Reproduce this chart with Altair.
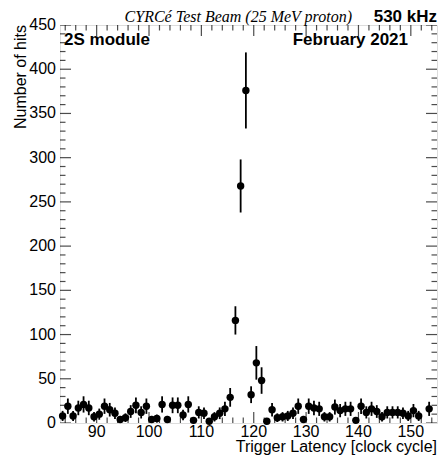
import altair as alt
import pandas as pd

# Trigger latency bins (lower edge of each clock-cycle bin) and measured hits
latency = [83, 84, 85, 86, 87, 88, 89, 90, 91, 92, 93, 94, 95, 96, 97, 98, 99,
           100, 101, 102, 103, 104, 105, 106, 107, 108, 109, 110, 111, 112, 113,
           114, 115, 116, 117, 118, 119, 120, 121, 122, 123, 124, 125, 126, 127,
           128, 129, 130, 131, 132, 133, 134, 135, 136, 137, 138, 139, 140, 141,
           142, 143, 144, 145, 146, 147, 148, 149, 150, 151, 153]
hits = [8, 19, 8, 17, 21, 17, 7, 10, 19, 15, 11, 4, 6, 13, 20, 12, 19,
        4, 5, 21, 4, 20, 20, 9, 21, 3, 12, 11, 2, 7, 11,
        16, 29, 116, 268, 376, 32, 68, 48, 2, 15, 6, 7, 8, 11,
        19, 4, 19, 17, 16, 7, 7, 18, 14, 16, 16, 3, 19, 12,
        16, 13, 7, 12, 12, 12, 11, 8, 14, 8, 16]
errors = [5.7, 8.7, 5.7, 8.2, 9.2, 8.2, 5.3, 6.3, 8.7, 7.7, 6.6, 4.0, 4.9, 7.2, 8.9, 6.9, 8.7,
          4.0, 4.5, 9.2, 4.0, 8.9, 8.9, 6.0, 9.2, 3.5, 6.9, 6.6, 2.8, 5.3, 6.6,
          8.0, 10.6, 16.0, 30.0, 43.0, 9.5, 19.0, 15.0, 2.8, 7.7, 4.9, 5.3, 5.7, 6.6,
          8.7, 4.0, 8.7, 8.2, 8.0, 5.3, 5.3, 8.5, 7.5, 8.0, 8.0, 3.5, 8.7, 6.9,
          8.0, 7.2, 5.3, 6.9, 6.9, 6.9, 6.6, 5.7, 7.5, 5.7, 8.0]

x_major = [90, 100, 110, 120, 130, 140, 150]
x_minor = [84, 86, 88, 92, 94, 96, 98, 102, 104, 106, 108, 112, 114, 116, 118,
           122, 124, 126, 128, 132, 134, 136, 138, 142, 144, 146, 148, 152, 154]
y_major = [0, 50, 100, 150, 200, 250, 300, 350, 400, 450]
y_minor = [10, 20, 30, 40, 60, 70, 80, 90, 110, 120, 130, 140, 160, 170, 180, 190,
           210, 220, 230, 240, 260, 270, 280, 290, 310, 320, 330, 340, 360, 370,
           380, 390, 410, 420, 430, 440]

W, H = 377, 398
FONT = "Liberation Sans"

df = pd.DataFrame({"latency": latency, "hits": hits, "err": errors})
xt = pd.DataFrame({"t": x_major + x_minor,
                   "len": [22] * len(x_major) + [11] * len(x_minor)})
yt = pd.DataFrame({"t": y_major + y_minor,
                   "len": [22] * len(y_major) + [11] * len(y_minor)})
xl = pd.DataFrame({"t": x_major})
yl_df = pd.DataFrame({"t": y_major})

x_scale = alt.Scale(domain=[83, 155], nice=False, zero=False)
y_scale = alt.Scale(domain=[0, 450], nice=False)

base = alt.Chart(df).transform_calculate(
    center="datum.latency + 0.5",
    lo="max(0, datum.hits - datum.err)",
    hi="datum.hits + datum.err",
)

bars = base.mark_rule(color="black", strokeWidth=1.8).encode(
    x=alt.X("center:Q", scale=x_scale, axis=None),
    y=alt.Y("lo:Q", scale=y_scale, axis=None),
    y2="hi:Q",
)

points = base.mark_circle(color="black", opacity=1, size=55).encode(
    x=alt.X("center:Q", scale=x_scale, axis=None),
    y=alt.Y("hits:Q", scale=y_scale, axis=None),
)

def xticks(ypix):
    return alt.Chart(xt).mark_tick(color="black", thickness=1.2, orient="vertical", clip=True).encode(
        x=alt.X("t:Q", scale=x_scale, axis=None),
        y=alt.value(ypix),
        size=alt.Size("len:Q", scale=None, legend=None),
    )

def yticks(xpix):
    return alt.Chart(yt).mark_tick(color="black", thickness=1.2, orient="horizontal", clip=True).encode(
        y=alt.Y("t:Q", scale=y_scale, axis=None),
        x=alt.value(xpix),
        size=alt.Size("len:Q", scale=None, legend=None),
    )

xlabels = alt.Chart(xl).mark_text(
    font=FONT, fontSize=16, align="center", baseline="alphabetic", color="black"
).encode(
    x=alt.X("t:Q", scale=x_scale, axis=None),
    y=alt.value(H + 14),
    text=alt.Text("t:Q"),
)
ylabels = alt.Chart(yl_df).mark_text(
    font=FONT, fontSize=16, align="right", baseline="middle", color="black"
).encode(
    y=alt.Y("t:Q", scale=y_scale, axis=None),
    x=alt.value(-4),
    text=alt.Text("t:Q"),
)

one = pd.DataFrame({"k": [0]})

def label(text, x, y, align, weight="normal", font=FONT, style="normal", angle=0, size=16):
    return alt.Chart(one).mark_text(
        text=text, font=font, fontWeight=weight, fontStyle=style, angle=angle,
        fontSize=size, align=align, baseline="alphabetic", color="black"
    ).encode(x=alt.value(x), y=alt.value(y))

title_it = label("CYRCé Test Beam (25 MeV proton)", 292, -3, "right",
                 font="Liberation Serif", style="italic")
title_b = label("530 kHz", W, -3, "right", weight="bold", size=17)
lab_left = label("2S module", 4, 20, "left", weight="bold", size=17)
lab_right = label("February 2021", 348, 20, "right", weight="bold", size=17)
xtitle = label("Trigger Latency [clock cycle]", W, 427, "right")
ytitle = label("Number of hits", -34, 0, "right", angle=270)

chart = alt.layer(
    bars, points, xticks(H), xticks(0), yticks(0), yticks(W),
    xlabels, ylabels, title_it, title_b, lab_left, lab_right, xtitle, ytitle
).properties(
    width=W, height=H,
    autosize=alt.AutoSizeParams(type="none"),
    padding={"left": 52, "top": 17, "right": 1, "bottom": 32},
).configure_view(stroke="black", strokeWidth=1.5).configure(background="white")

chart.save("out.html", embed_options={"renderer": "svg", "actions": False})
